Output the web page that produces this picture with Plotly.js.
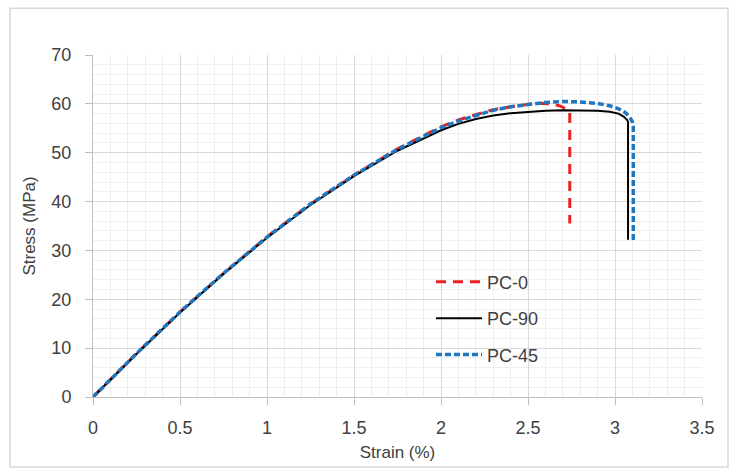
<!DOCTYPE html>
<html>
<head>
<meta charset="utf-8">
<script src="https://cdn.plot.ly/plotly-3.0.1.min.js"></script>
<style>body{margin:0;background:#fff;} #chart{width:738px;height:475px;}</style>
</head>
<body>
<div id="chart"></div>
<script>
// Data
const pc0_x = [0, 0.25, 0.5, 0.75, 1.0, 1.25, 1.5, 1.75, 2.0, 2.1, 2.2, 2.3, 2.4, 2.5, 2.58, 2.65, 2.69, 2.72, 2.74, 2.74];
const pc0_y = [0, 8.9, 17.4, 25.3, 32.8, 39.5, 45.4, 50.8, 55.3, 56.7, 57.8, 58.8, 59.4, 59.9, 60.1, 59.9, 59.5, 58.9, 58.3, 35.5];

const pc90_x = [0, 0.25, 0.5, 0.75, 1.0, 1.25, 1.5, 1.75, 2.0, 2.1, 2.2, 2.3, 2.4, 2.5, 2.6, 2.7, 2.8, 2.9, 2.97, 3.02, 3.05, 3.07, 3.075, 3.075];
const pc90_y = [0, 8.8, 17.3, 25.2, 32.6, 39.3, 45.2, 50.4, 54.6, 55.9, 56.9, 57.6, 58.1, 58.4, 58.6, 58.7, 58.7, 58.6, 58.4, 58.0, 57.4, 56.7, 56.3, 32.2];

const pc45_x = [0, 0.25, 0.5, 0.75, 1.0, 1.25, 1.5, 1.75, 2.0, 2.1, 2.2, 2.3, 2.4, 2.5, 2.6, 2.7, 2.8, 2.9, 2.97, 3.02, 3.06, 3.085, 3.1, 3.105, 3.105];
const pc45_y = [0, 8.9, 17.4, 25.3, 32.7, 39.5, 45.4, 50.7, 55.1, 56.5, 57.6, 58.7, 59.4, 59.9, 60.3, 60.5, 60.4, 60.1, 59.6, 59.0, 58.2, 57.3, 56.3, 55.3, 31.9];

const names = ["PC-0", "PC-90", "PC-45"];
const font = "Liberation Sans, Arial, sans-serif";

const traces = [
  {x: pc0_x, y: pc0_y, name: names[0], legendgroup: "a", mode: "lines",
   line: {color: "#e8231f", width: 3, dash: "10px,7px"}},
  {x: pc90_x, y: pc90_y, name: names[1], legendgroup: "b", mode: "lines",
   line: {color: "#000000", width: 2}},
  {x: pc45_x, y: pc45_y, name: names[2], legendgroup: "c", mode: "lines",
   line: {color: "#1f77c0", width: 3.5, dash: "6px,3px"}}
];

const axisCommon = {
  showline: true, linecolor: "#bfbfbf", linewidth: 1,
  gridcolor: "#d9d9d9", gridwidth: 1,
  ticks: "outside", tickcolor: "#bfbfbf", ticklen: 7,
  zeroline: false,
  tickfont: {family: font, size: 18, color: "#404040"}
};

const layout = {
  width: 738, height: 475,
  margin: {l: 93, r: 36, t: 55, b: 78},
  paper_bgcolor: "#ffffff", plot_bgcolor: "#ffffff",
  showlegend: true,
  legend: {x: 0.555, y: 0.39, xanchor: "left", yanchor: "top",
           bgcolor: "rgba(255,255,255,0)", tracegroupgap: 10,
           itemwidth: 46,
           font: {family: font, size: 18, color: "#404040"}},
  xaxis: Object.assign({}, axisCommon, {
    range: [0, 3.5], dtick: 0.5, tick0: 0,
    minor: {showgrid: true, gridcolor: "#efefef", dtick: 0.1},
    ticklabelstandoff: 7,
    title: {text: "Strain (%)", font: {family: font, size: 17, color: "#404040"}, standoff: 9}
  }),
  yaxis: Object.assign({}, axisCommon, {
    range: [0, 70], dtick: 10, tick0: 0,
    minor: {showgrid: true, gridcolor: "#efefef", dtick: 2},
    ticklabelstandoff: 10,
    title: {text: "Stress (MPa)", font: {family: font, size: 17, color: "#404040"}, standoff: 11}
  }),
  shapes: [{type: "rect", xref: "paper", yref: "paper",
            x0: -0.1363, x1: 1.0427, y0: -0.2047, y1: 1.137,
            line: {color: "#d9d9d9", width: 1.5}, fillcolor: "rgba(0,0,0,0)", layer: "below"}]
};

Plotly.newPlot("chart", traces, layout, {displayModeBar: false, staticPlot: true});
</script>
</body>
</html>
